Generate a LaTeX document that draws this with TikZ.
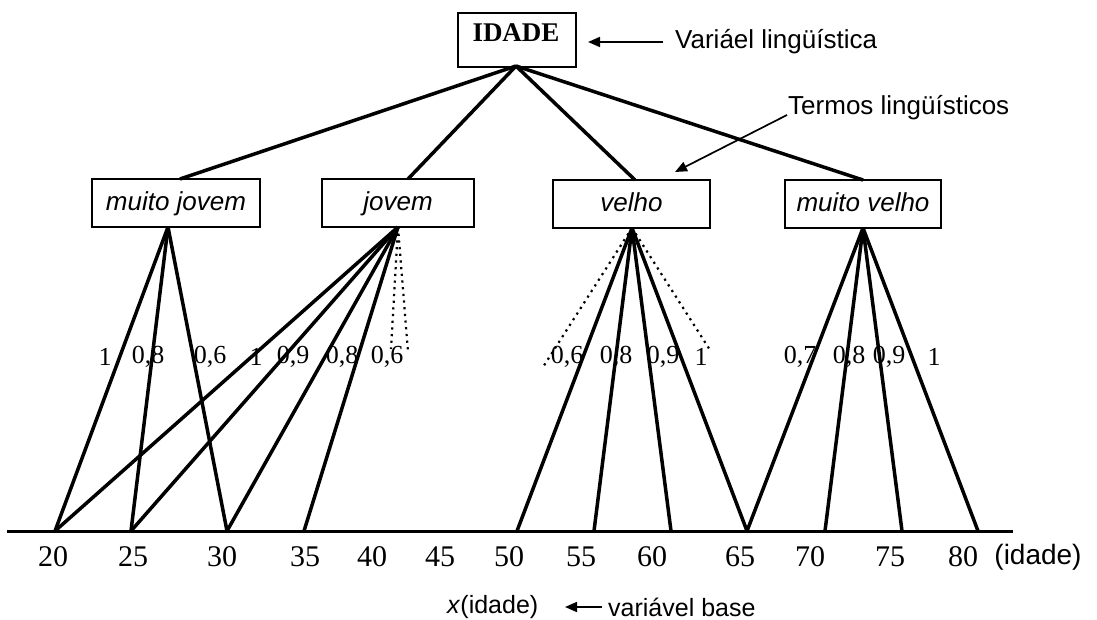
\documentclass[tikz,border=0pt]{standalone}
\usepackage{fontspec}
\setmainfont{Liberation Serif}
\newfontfamily\arialfont{Liberation Sans}
\usetikzlibrary{arrows.meta}
\begin{document}
\begin{tikzpicture}[x=1pt,y=-1pt,
  termbox/.style={draw, line width=1.7pt, minimum height=48pt, inner sep=0pt,
    text height=22pt, text depth=6pt,
    font=\arialfont\itshape\fontsize{26}{30}\selectfont},
  topbox/.style={draw, line width=1.7pt, inner sep=0pt},
  solidedge/.style={line width=3.5pt},
  dotedge/.style={line width=2.2pt, dash pattern=on 2.2pt off 4.5pt},
  wlab/.style={inner sep=0pt, font=\fontsize{26}{30}\selectfont},
  numlab/.style={inner sep=0pt, font=\fontsize{30}{34}\selectfont},
  note/.style={inner sep=0pt, anchor=west, font=\arialfont\fontsize{26}{30}\selectfont},
  pointer/.style={line width=1.7pt, -{Triangle[length=12pt,width=10pt]}}]
\useasboundingbox (0,0) rectangle (1097,620);

% root
\node[topbox, minimum width=118pt, minimum height=54pt] (idade) at (517,40) {};
\node[inner sep=0pt, font=\bfseries\fontsize{27}{30}\selectfont] (idadetxt) at (516,33) {IDADE};
\coordinate (aroot) at (516,66);

% terms
\node[termbox, minimum width=168pt] (mj) at (176,203) {muito jovem};
\node[termbox, minimum width=152pt] (jv) at (398,203) {jovem};
\node[termbox, minimum width=157pt] (vl) at (631.5,204) {velho};
\node[termbox, minimum width=156pt] (mv) at (863,204) {muito velho};

\coordinate (tmj) at (180,179);
\coordinate (tjv) at (408,179);
\coordinate (tvl) at (635,180);
\coordinate (tmv) at (863,180);

\draw[solidedge] (aroot) -- (tmj);
\draw[solidedge] (aroot) -- (tjv);
\draw[solidedge] (aroot) -- (tvl);
\draw[solidedge] (aroot) -- (tmv);

% apexes
\coordinate (amj) at (168,227);
\coordinate (ajv) at (398,227);
\coordinate (avl) at (632,228);
\coordinate (amv) at (863,228);

% axis
\coordinate (axl) at (7,531);
\coordinate (axr) at (1013,531);
\draw[line width=3pt] (axl) -- (axr);

\coordinate (t20) at (55,531);
\coordinate (t25) at (131,531);
\coordinate (t30) at (227,531);
\coordinate (t35) at (304,531);
\coordinate (t50) at (517,531);
\coordinate (t55) at (594,531);
\coordinate (t60) at (671,531);
\coordinate (t65) at (747,531);
\coordinate (t70) at (825,531);
\coordinate (t75) at (902,531);
\coordinate (t80) at (978,531);

% muito jovem
\foreach \t in {t20,t25,t30} \draw[solidedge] (amj) -- (\t);
% jovem
\foreach \t in {t20,t25,t30,t35} \draw[solidedge] (ajv) -- (\t);
\coordinate (dj1) at (391,349);
\coordinate (dj2) at (408,352);
\draw[dotedge] (ajv) -- (dj1);
\draw[dotedge] (ajv) -- (dj2);
% velho
\foreach \t in {t50,t55,t60,t65} \draw[solidedge] (avl) -- (\t);
\coordinate (dv1) at (543,367);
\coordinate (dv2) at (710,350);
\draw[dotedge] (avl) -- (dv1);
\draw[dotedge] (avl) -- (dv2);
% muito velho
\foreach \t in {t65,t70,t75,t80} \draw[solidedge] (amv) -- (\t);

% membership labels
\node[wlab] (l1) at (105,357) {1};
\node[wlab] (l2) at (148,357) {0,8};
\node[wlab] (l3) at (210,357) {0,6};
\node[wlab] (l4) at (256,357) {1};
\node[wlab] (l5) at (293,357) {0,9};
\node[wlab] (l6) at (342,357) {0,8};
\node[wlab] (l7) at (387,357) {0,6};
\node[wlab] (l8) at (567,357) {0,6};
\node[wlab] (l9) at (616,357) {0,8};
\node[wlab] (l10) at (663,357) {0,9};
\node[wlab] (l11) at (701,357) {1};
\node[wlab] (l12) at (800,357) {0,7};
\node[wlab] (l13) at (849,357) {0,8};
\node[wlab] (l14) at (889,357) {0,9};
\node[wlab] (l15) at (934,357) {1};

% axis numbers
\node[numlab] (n20) at (53,557) {20};
\node[numlab] (n25) at (133,557) {25};
\node[numlab] (n30) at (222,557) {30};
\node[numlab] (n35) at (305,557) {35};
\node[numlab] (n40) at (372,557) {40};
\node[numlab] (n45) at (440,557) {45};
\node[numlab] (n50) at (509,557) {50};
\node[numlab] (n55) at (581,557) {55};
\node[numlab] (n60) at (652,557) {60};
\node[numlab] (n65) at (740,557) {65};
\node[numlab] (n70) at (810,557) {70};
\node[numlab] (n75) at (890,557) {75};
\node[numlab] (n80) at (963,557) {80};
\node[inner sep=0pt, font=\arialfont\fontsize{28}{32}\selectfont] (nid) at (1038,557) {(idade)};

% annotations
\node[note] (varl) at (675,42) {Variáel lingüística};
\coordinate (varlt) at (663,42);
\coordinate (varlh) at (588,42);
\draw[pointer] (varlt) -- (varlh);

\node[note] (termos) at (788,108) {Termos lingüísticos};
\coordinate (termost) at (787,115);
\coordinate (termosh) at (675,172);
\draw[pointer] (termost) -- (termosh);

\node[note, font=\arialfont\fontsize{25}{30}\selectfont] (xid) at (447,607) {\textit{x}(idade)};
\node[note, font=\arialfont\fontsize{25}{30}\selectfont] (vb) at (608,607) {variável base};
\coordinate (vbt) at (602,607);
\coordinate (vbh) at (565,607);
\draw[pointer] (vbt) -- (vbh);
\end{tikzpicture}
\end{document}
